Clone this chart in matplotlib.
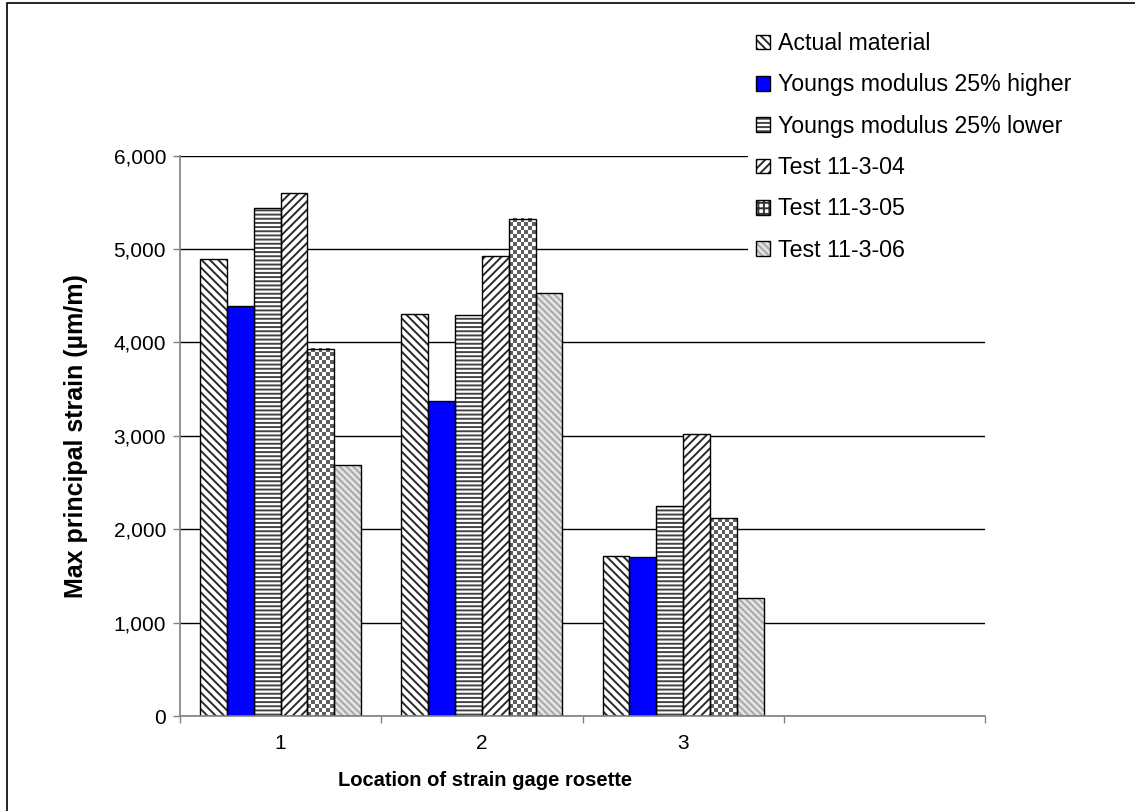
import numpy as np
import matplotlib
matplotlib.use("Agg")
import matplotlib.pyplot as plt
from matplotlib.patches import Patch, Rectangle
from matplotlib.ticker import FixedLocator, NullFormatter, FixedFormatter, FuncFormatter
from matplotlib.legend_handler import HandlerTuple

plt.rcParams['font.family'] = ['Liberation Sans', 'DejaVu Sans']
plt.rcParams['hatch.linewidth'] = 1.4

# data
locations = [1, 2, 3]
category_labels = ['1', '2', '3', '']
series_names = ['Actual material', 'Youngs modulus 25% higher', 'Youngs modulus 25% lower',
                'Test 11-3-04', 'Test 11-3-05', 'Test 11-3-06']
actual = [4890, 4300, 1710]
e_high = [4395, 3370, 1705]
e_low = [5445, 4290, 2245]
test_04 = [5605, 4925, 3025]
test_05 = [3935, 5325, 2115]
test_06 = [2690, 4525, 1265]
series = [actual, e_high, e_low, test_04, test_05, test_06]
y_ticks = [0, 1000, 2000, 3000, 4000, 5000, 6000]

# face colour, hatch, hatch colour
styles = [
    ('white', '\\\\\\\\', '#2a2a2a'),
    ('#0000ff', None, '#0000ff'),
    ('white', '----', '#444444'),
    ('white', '////', '#2a2a2a'),
    ('white', 'checker', '#333333'),
    ('#e4e4e4', '\\\\\\\\\\', '#a8a8a8'),
]

W, H = 1135, 811
fig = plt.figure(figsize=(W / 100, H / 100), dpi=100)
ax = fig.add_axes([180 / W, 1 - 716 / H, (985 - 180) / W, (716 - 155.7) / H])
ax.set_xlim(0.5, len(category_labels) + 0.5)
ax.set_ylim(0, 6000)

width = 0.8 / len(series)
x0 = np.array(locations, dtype=float)

def px_per_unit():
    a = ax.transData.transform((0, 0))
    b = ax.transData.transform((1, 1))
    return b[0] - a[0], b[1] - a[1]

handles = []
for i, (vals, name, (face, hatch, hcol)) in enumerate(zip(series, series_names, styles)):
    xs = x0 + (i - (len(series) - 1) / 2) * width
    if hatch == 'checker':
        bars = ax.bar(xs, vals, width, color='white', linewidth=0, zorder=2)
        sx, sy = px_per_unit()
        for b in bars:
            nx = max(1, int(round(b.get_width() * sx / 4)))
            ny = max(1, int(round(b.get_height() * sy / 4)))
            cells = np.indices((ny, nx)).sum(axis=0) % 2
            ax.imshow(cells, cmap='gray', vmin=-0.6, vmax=1, aspect='auto',
                      interpolation='nearest', origin='lower', zorder=2.5,
                      extent=(b.get_x(), b.get_x() + b.get_width(), 0, b.get_height()))
        hpatch = Patch(facecolor='white', hatch='+++', edgecolor=hcol, linewidth=0)
    else:
        ax.bar(xs, vals, width, color=face, hatch=hatch, edgecolor=hcol, linewidth=0, zorder=2)
        hpatch = Patch(facecolor=face, hatch=hatch, edgecolor=hcol, linewidth=0)
    ax.bar(xs, vals, width, fill=False, edgecolor='black', linewidth=1, zorder=3)
    handles.append((hpatch, Patch(fill=False, edgecolor='black', linewidth=1)))

ax.set_xlim(0.5, len(category_labels) + 0.5)
ax.set_ylim(0, 6000)

# category axis: ticks on boundaries, labels centred
ax.xaxis.set_major_locator(FixedLocator(np.arange(0.5, len(category_labels) + 1, 1)))
ax.xaxis.set_major_formatter(NullFormatter())
ax.xaxis.set_minor_locator(FixedLocator(np.arange(1, len(category_labels) + 1)))
ax.xaxis.set_minor_formatter(FixedFormatter(category_labels))
ax.tick_params(axis='x', which='major', direction='out', length=5, width=1, color='#808080')
ax.tick_params(axis='x', which='minor', length=0, pad=13, labelsize=15)

ax.set_yticks(y_ticks)
ax.yaxis.set_major_formatter(FuncFormatter(lambda v, p: f'{v:,.0f}'))
ax.tick_params(axis='y', direction='out', length=5, width=1, color='#808080', pad=5, labelsize=15)

ax.yaxis.grid(True, color='black', linewidth=1)
ax.set_axisbelow(True)
for s in ['top', 'right']:
    ax.spines[s].set_visible(False)
for s in ['left', 'bottom']:
    ax.spines[s].set_color('#808080')
    ax.spines[s].set_linewidth(1.2)
    ax.spines[s].set_zorder(4)

fig.text(485 / W, 1 - 780 / H, 'Location of strain gage rosette', ha='center', va='center',
         fontsize=14.5, fontweight='bold')
fig.text(76 / W, 1 - 436 / H, 'Max principal strain (\u00b5m/m)', ha='center', va='center',
         rotation=90, fontsize=18, fontweight='bold')

leg = fig.legend(handles, series_names, loc='upper left', bbox_to_anchor=(748 / W, 1 - 24 / H),
                 frameon=True, facecolor='white', edgecolor='none', framealpha=1, fancybox=False,
                 fontsize=16.7, handlelength=0.6, handleheight=0.6, handletextpad=0.35,
                 labelspacing=0.79, borderpad=0.35, borderaxespad=0,
                 handler_map={tuple: HandlerTuple(ndivide=1)})

# outer chart border
fig.add_artist(Rectangle((7 / W, -0.05), 1.1, 1.05 - 3 / H, transform=fig.transFigure,
                         fill=False, edgecolor='black', linewidth=1.2))

fig.savefig('out.png', dpi=100)
